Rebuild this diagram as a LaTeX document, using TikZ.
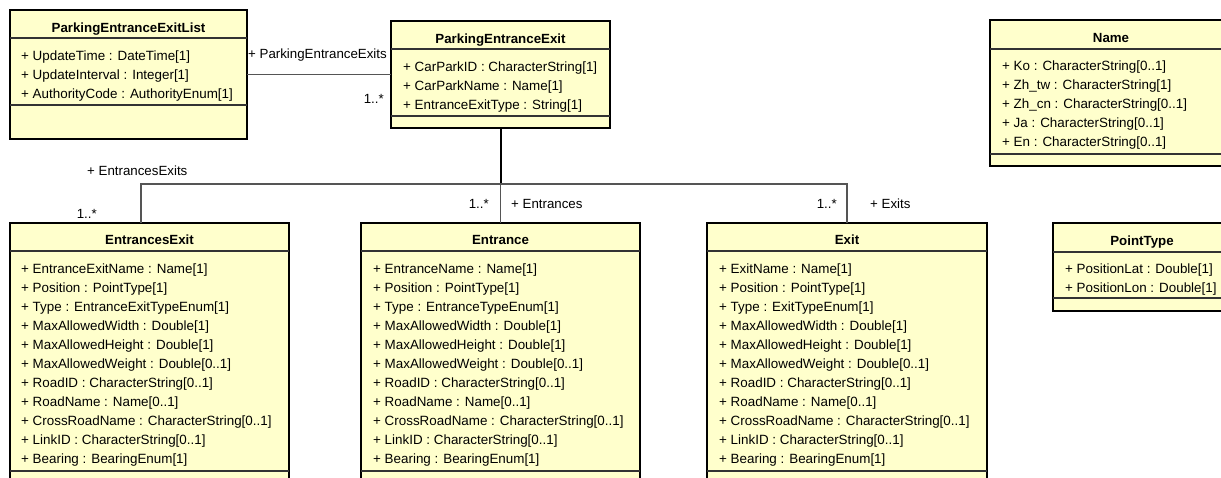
\documentclass[tikz,border=0pt]{standalone}
\usepackage{fontspec}
\setmainfont{Liberation Sans}
\usetikzlibrary{positioning, calc}

\definecolor{classfill}{RGB}{255,255,204}
\definecolor{assocgray}{RGB}{85,85,85}

\tikzset{
  classbox/.style={draw=black, line width=2.3pt, fill=classfill, anchor=north west, inner sep=0pt, outer sep=0pt},
  classtitle/.style={font=\fontsize{13.3}{15}\selectfont\bfseries, anchor=base, inner sep=0pt},
  attr/.style={font=\fontsize{13.4}{15}\selectfont, anchor=base west, inner sep=0pt},
  compsep/.style={line width=1.3pt, draw=black!80},
  assoc/.style={line width=1.2pt, draw=assocgray},
  trunk/.style={line width=2pt, draw=black},
  rolelabel/.style={font=\fontsize{13.3}{15}\selectfont, inner sep=0pt}
}

\begin{document}
\begin{tikzpicture}[x=1pt, y=-1pt]
    \clip (0,0) rectangle (1221,477);
    \fill[white] (0,0) rectangle (1221,477);

    % ParkingEntranceExitList
    \node[classbox, minimum width=237pt, minimum height=129pt] (list) at (10,10) {};
    \node[classtitle] (list-t) at (128.5,32) {ParkingEntranceExitList};
    \draw[compsep] ([yshift=-28pt]list.north west) -- ([yshift=-28pt]list.north east);
    \draw[compsep] ([yshift=-95pt]list.north west) -- ([yshift=-95pt]list.north east);
    \foreach \txt [count=\i from 0] in {+ UpdateTime : DateTime[1], + UpdateInterval : Integer[1], + AuthorityCode : AuthorityEnum[1]}
        \node[attr] (list-a\i) at (21, 60+19*\i) {\txt};

    % ParkingEntranceExit
    \node[classbox, minimum width=219pt, minimum height=107pt] (pee) at (391,21) {};
    \node[classtitle] (pee-t) at (500.5,43) {ParkingEntranceExit};
    \draw[compsep] ([yshift=-28pt]pee.north west) -- ([yshift=-28pt]pee.north east);
    \draw[compsep] ([yshift=-95pt]pee.north west) -- ([yshift=-95pt]pee.north east);
    \foreach \txt [count=\i from 0] in {+ CarParkID : CharacterString[1], + CarParkName : Name[1], + EntranceExitType : String[1]}
        \node[attr] (pee-a\i) at (403, 71+19*\i) {\txt};

    % Name
    \node[classbox, minimum width=242pt, minimum height=146pt] (name) at (990,20) {};
    \node[classtitle] (name-t) at (1111,42) {Name};
    \draw[compsep] ([yshift=-29pt]name.north west) -- ([yshift=-29pt]name.north east);
    \draw[compsep] ([yshift=-134pt]name.north west) -- ([yshift=-134pt]name.north east);
    \foreach \txt [count=\i from 0] in {+ Ko : CharacterString[0..1], + Zh\_tw : CharacterString[1], + Zh\_cn : CharacterString[0..1], + Ja : CharacterString[0..1], + En : CharacterString[0..1]}
        \node[attr] (name-a\i) at (1002, 70+19*\i) {\txt};

    % EntrancesExit
    \node[classbox, minimum width=279pt, minimum height=268pt] (ee) at (10,223) {};
    \node[classtitle] (ee-t) at (149.5,244) {EntrancesExit};
    \draw[compsep] ([yshift=-28pt]ee.north west) -- ([yshift=-28pt]ee.north east);
    \draw[compsep] ([yshift=-248pt]ee.north west) -- ([yshift=-248pt]ee.north east);
    \foreach \txt [count=\i from 0] in {+ EntranceExitName : Name[1], + Position : PointType[1], + Type : EntranceExitTypeEnum[1], + MaxAllowedWidth : Double[1], + MaxAllowedHeight : Double[1], + MaxAllowedWeight : Double[0..1], + RoadID : CharacterString[0..1], + RoadName : Name[0..1], + CrossRoadName : CharacterString[0..1], + LinkID : CharacterString[0..1], + Bearing : BearingEnum[1]}
        \node[attr] (ee-a\i) at (21, 273+19*\i) {\txt};

    % Entrance
    \node[classbox, minimum width=279pt, minimum height=268pt] (entrance) at (361,223) {};
    \node[classtitle] (entrance-t) at (500.5,244) {Entrance};
    \draw[compsep] ([yshift=-28pt]entrance.north west) -- ([yshift=-28pt]entrance.north east);
    \draw[compsep] ([yshift=-248pt]entrance.north west) -- ([yshift=-248pt]entrance.north east);
    \foreach \txt [count=\i from 0] in {+ EntranceName : Name[1], + Position : PointType[1], + Type : EntranceTypeEnum[1], + MaxAllowedWidth : Double[1], + MaxAllowedHeight : Double[1], + MaxAllowedWeight : Double[0..1], + RoadID : CharacterString[0..1], + RoadName : Name[0..1], + CrossRoadName : CharacterString[0..1], + LinkID : CharacterString[0..1], + Bearing : BearingEnum[1]}
        \node[attr] (entrance-a\i) at (373, 273+19*\i) {\txt};

    % Exit
    \node[classbox, minimum width=280pt, minimum height=268pt] (exit) at (707,223) {};
    \node[classtitle] (exit-t) at (847,244) {Exit};
    \draw[compsep] ([yshift=-28pt]exit.north west) -- ([yshift=-28pt]exit.north east);
    \draw[compsep] ([yshift=-248pt]exit.north west) -- ([yshift=-248pt]exit.north east);
    \foreach \txt [count=\i from 0] in {+ ExitName : Name[1], + Position : PointType[1], + Type : ExitTypeEnum[1], + MaxAllowedWidth : Double[1], + MaxAllowedHeight : Double[1], + MaxAllowedWeight : Double[0..1], + RoadID : CharacterString[0..1], + RoadName : Name[0..1], + CrossRoadName : CharacterString[0..1], + LinkID : CharacterString[0..1], + Bearing : BearingEnum[1]}
        \node[attr] (exit-a\i) at (719, 273+19*\i) {\txt};

    % PointType
    \node[classbox, minimum width=178pt, minimum height=88pt] (point) at (1053,223) {};
    \node[classtitle] (point-t) at (1142,245) {PointType};
    \draw[compsep] ([yshift=-29pt]point.north west) -- ([yshift=-29pt]point.north east);
    \draw[compsep] ([yshift=-75pt]point.north west) -- ([yshift=-75pt]point.north east);
    \foreach \txt [count=\i from 0] in {+ PositionLat : Double[1], + PositionLon : Double[1]}
        \node[attr] (point-a\i) at (1065, 273+19*\i) {\txt};

    % associations
    \draw[assoc] (list.east) -- (list.east -| pee.west);
    \node[rolelabel, anchor=base west] (r-pee) at (248,58) {+ ParkingEntranceExits};
    \node[rolelabel, anchor=base east] (m-pee) at (384,103) {1..*};

    \coordinate (hub) at (500.5,184);
    \draw[trunk] (pee.south) -- (hub);
    \draw[assoc] (hub) -| ([xshift=-8.5pt]ee.north);
    \draw[assoc] (hub) -- (entrance.north);
    \draw[assoc] (hub) -| (exit.north);

    \node[rolelabel, anchor=base west] (r-ee) at (87,175) {+ EntrancesExits};
    \node[rolelabel, anchor=base east] (m-ee) at (97,218) {1..*};
    \node[rolelabel, anchor=base east] (m-entrance) at (489,208) {1..*};
    \node[rolelabel, anchor=base west] (r-entrance) at (511,208) {+ Entrances};
    \node[rolelabel, anchor=base east] (m-exit) at (837,208) {1..*};
    \node[rolelabel, anchor=base west] (r-exit) at (870,208) {+ Exits};
\end{tikzpicture}
\end{document}
